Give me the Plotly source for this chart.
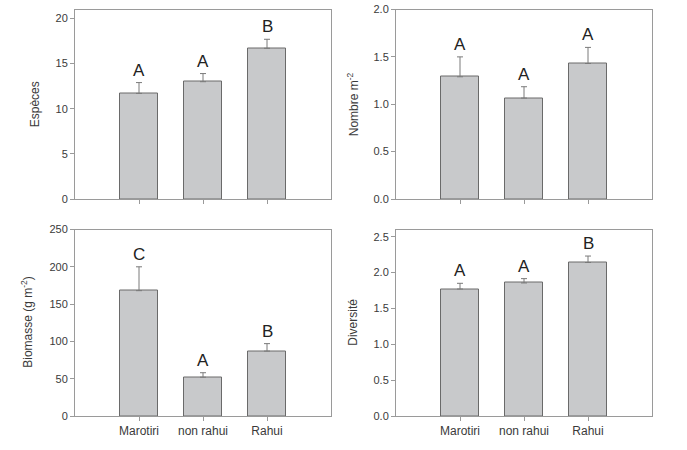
import plotly.graph_objects as go

categories = ["Marotiri", "non rahui", "Rahui"]

especes = [11.7, 13.0, 16.7]
especes_err = [1.2, 0.9, 1.0]
especes_letters = ["A", "A", "B"]

nombre = [1.29, 1.065, 1.43]
nombre_err = [0.21, 0.12, 0.17]
nombre_letters = ["A", "A", "A"]

biomasse = [168, 52, 87]
biomasse_err = [32, 6, 10]
biomasse_letters = ["C", "A", "B"]

diversite = [1.77, 1.855, 2.14]
diversite_err = [0.08, 0.06, 0.09]
diversite_letters = ["A", "A", "B"]

x_pos = [0, 1, 2]

W = 687
H = 450


def px_x(px):
    return px / W


def px_y(py):
    return 1 - py / H


panels = [
    dict(vals=especes, err=especes_err, letters=especes_letters, title="Espèces",
         xd=[px_x(75), px_x(331)], yd=[px_y(199), px_y(9.5)], yr=[0, 21], dtick=5, fmt="d",
         xlabels=False, tx=px_x(35)),
    dict(vals=nombre, err=nombre_err, letters=nombre_letters, title="Nombre m<sup>-2</sup>",
         xd=[px_x(396), px_x(652)], yd=[px_y(199), px_y(9.5)], yr=[0, 2.0], dtick=0.5, fmt=".1f",
         xlabels=False, tx=px_x(353)),
    dict(vals=biomasse, err=biomasse_err, letters=biomasse_letters, title="Biomasse (g m<sup>-2</sup>)",
         xd=[px_x(75), px_x(331)], yd=[px_y(416), px_y(229.5)], yr=[0, 250], dtick=50, fmt="d",
         xlabels=True, tx=px_x(27)),
    dict(vals=diversite, err=diversite_err, letters=diversite_letters, title="Diversité",
         xd=[px_x(396), px_x(652)], yd=[px_y(416), px_y(229.5)], yr=[0, 2.6], dtick=0.5, fmt=".1f",
         xlabels=True, tx=px_x(353)),
]

fig = go.Figure()
font_family = "Liberation Sans, Arial, sans-serif"
annotations = []

for i, p in enumerate(panels):
    n = i + 1
    xa = "x" if n == 1 else f"x{n}"
    ya = "y" if n == 1 else f"y{n}"
    fig.add_trace(go.Bar(
        x=x_pos, y=p["vals"], width=0.6,
        marker=dict(color="#c8c9cb", line=dict(color="#6a6a6a", width=1)),
        error_y=dict(type="data", array=p["err"], arrayminus=[0, 0, 0], symmetric=False,
                     color="#7a7a7a", thickness=1, width=3),
        xaxis=xa, yaxis=ya, showlegend=False, hoverinfo="skip",
    ))
    axis_common = dict(showline=True, linecolor="#9a9a9a", linewidth=1, mirror=True,
                       ticks="outside", ticklen=4, tickcolor="#9a9a9a", showgrid=False,
                       zeroline=False, automargin=False)
    fig.layout[("xaxis" if n == 1 else f"xaxis{n}")] = dict(
        domain=p["xd"], range=[-1, 3], tickvals=x_pos, ticktext=categories,
        showticklabels=p["xlabels"],
        anchor=ya, tickfont=dict(size=12, color="#3a3a3a", family=font_family), **axis_common)
    fig.layout[("yaxis" if n == 1 else f"yaxis{n}")] = dict(
        domain=p["yd"], range=p["yr"], dtick=p["dtick"], tickformat=p["fmt"],
        anchor=xa, tickfont=dict(size=11, color="#3a3a3a", family=font_family), **axis_common)
    for j in range(3):
        annotations.append(dict(
            x=x_pos[j], y=p["vals"][j] + p["err"][j], xref=xa, yref=ya,
            text=p["letters"][j], showarrow=False, yanchor="bottom", yshift=1,
            font=dict(size=17, color="#222222", family=font_family)))
    annotations.append(dict(
        x=p["tx"], y=(p["yd"][0] + p["yd"][1]) / 2, xref="paper", yref="paper",
        text=p["title"], textangle=-90, showarrow=False, xanchor="center", yanchor="middle",
        font=dict(size=12, color="#3a3a3a", family=font_family)))

fig.update_layout(
    width=W, height=H, margin=dict(l=0, r=0, t=0, b=0, autoexpand=False),
    paper_bgcolor="white", plot_bgcolor="white",
    annotations=annotations, bargap=0,
)

fig.write_html(
    "out.html",
    config={"displayModeBar": False},
    post_script="document.documentElement.style.margin='0';document.body.style.margin='0';"
                "document.body.style.overflow='hidden';",
)
